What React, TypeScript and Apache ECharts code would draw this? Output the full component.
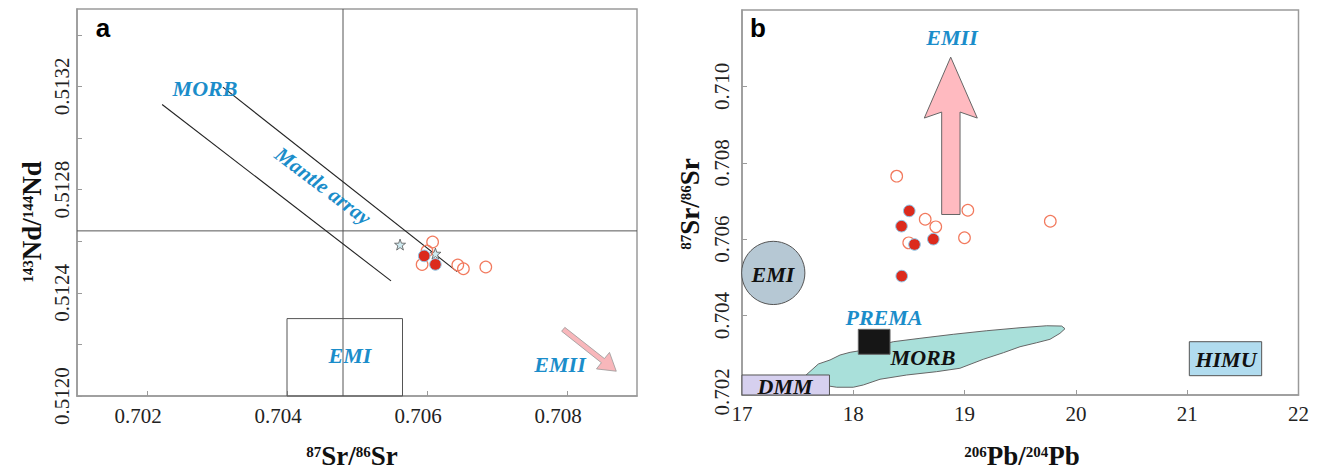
import React, { useEffect, useRef } from "react";
import * as echarts from "echarts";

// ---------- Panel a : 143Nd/144Nd vs 87Sr/86Sr ----------
const aXTicks = [0.702, 0.704, 0.706, 0.708];
const aYTicks = [0.512, 0.5122, 0.5124, 0.5126, 0.5128, 0.513, 0.5132, 0.5134];
const aYLabels = [0.512, 0.5124, 0.5128, 0.5132];
const aFilled = [
  [0.70596, 0.512543],
  [0.70612, 0.51251],
];
const aOpen = [
  [0.70608, 0.512597],
  [0.706, 0.512562],
  [0.70593, 0.51251],
  [0.70644, 0.512508],
  [0.70652, 0.512493],
  [0.70684, 0.5125],
];
const aStars = [
  [0.705615, 0.512587],
  [0.70612, 0.512552],
];
const aBulkSr = 0.7048;
const aBulkNd = 0.51264;
const aMantleLower = [
  [0.702216, 0.51313],
  [0.705486, 0.512446],
];
const aMantleUpper = [
  [0.703084, 0.513197],
  [0.70643, 0.512482],
];
const aEmiBox = [
  [0.704, 0.512],
  [0.70565, 0.512],
  [0.70565, 0.5123],
  [0.704, 0.5123],
];
const aEmiiArrow = [
  [0.707923, 0.512251],
  [0.707969, 0.512266],
  [0.708535, 0.512145],
  [0.708607, 0.512169],
  [0.708704, 0.512096],
  [0.708421, 0.512105],
  [0.708491, 0.512129],
];

// ---------- Panel b : 87Sr/86Sr vs 206Pb/204Pb ----------
const bXTicks = [17, 18, 19, 20, 21, 22];
const bYTicks = [0.702, 0.704, 0.706, 0.708, 0.71];
const bFilled = [
  [18.503, 0.70674],
  [18.433, 0.70634],
  [18.55, 0.705861],
  [18.719, 0.706],
  [18.435, 0.705033],
];
const bOpen = [
  [18.39, 0.70765],
  [18.646, 0.706523],
  [18.741, 0.706322],
  [18.498, 0.705903],
  [19.029, 0.706758],
  [18.999, 0.706039],
  [19.77, 0.706471],
];
const bEmiiArrow = [
  [18.875, 0.710766],
  [19.114, 0.709171],
  [18.959, 0.709328],
  [18.959, 0.706646],
  [18.794, 0.706646],
  [18.794, 0.709328],
  [18.638, 0.709171],
];
const bMorbField = [
  [17.566, 0.702418], [17.686, 0.702732], [17.791, 0.702837], [17.881, 0.702967],
  [17.971, 0.703038], [18.061, 0.70308], [18.359, 0.703315], [18.599, 0.703404],
  [18.898, 0.703509], [19.199, 0.703603], [19.498, 0.703681], [19.738, 0.703733],
  [19.872, 0.703725], [19.902, 0.703655], [19.857, 0.703535], [19.767, 0.703378],
  [19.648, 0.703289], [19.498, 0.703184], [19.348, 0.703027], [19.168, 0.702855],
  [18.958, 0.70262], [18.749, 0.702531], [18.48, 0.702444], [18.24, 0.702332],
  [18.09, 0.702183], [18.0, 0.702123], [17.851, 0.702123], [17.775, 0.702157],
  [17.6, 0.70235],
];
const bDmmBox = [
  [17.0, 0.70192], [17.786, 0.70192], [17.786, 0.702444], [17.0, 0.702444],
];
const bPremaBox = [
  [18.045, 0.702986], [18.33, 0.702986], [18.33, 0.703639], [18.045, 0.703639],
];
const bHimuBox = [
  [21.019, 0.702426], [21.669, 0.702426], [21.669, 0.703315], [21.019, 0.703315],
];
const bEmiCenter = [17.281, 0.705116];
const bEmiRadiusX = 0.284;

const SERIF = '"Liberation Serif", "Times New Roman", serif';
const BLUE = "#1b8dca";
const OPEN_C = "#f27a5e";
const FILL_C = "#dc2a1c";
const FILL_B = "#8cc8ea";
const AXIS_C = "#9a9a9a";
const STAR =
  "path://M0,-10 L2.35,-3.24 L9.51,-3.09 L3.8,1.24 L5.88,8.09 L0,4 L-5.88,8.09 L-3.8,1.24 L-9.51,-3.09 L-2.35,-3.24 Z";

function polySeries(verts: number[][], xi: number, yi: number, style: any, z: number) {
  return {
    type: "custom",
    xAxisIndex: xi,
    yAxisIndex: yi,
    z,
    silent: true,
    data: [verts[0]],
    renderItem: (_p: any, api: any) => ({
      type: "polygon",
      shape: { points: verts.map((v) => api.coord(v)) },
      style,
    }),
  };
}

function lineSeries(pts: number[][], xi: number, yi: number, color: string, width: number, z: number) {
  return {
    type: "line",
    xAxisIndex: xi,
    yAxisIndex: yi,
    data: pts,
    showSymbol: false,
    symbol: "none",
    silent: true,
    z,
    lineStyle: { color, width },
  };
}

function circleSeries(pts: number[][], xi: number, yi: number, fill: string, stroke: string, width: number, z: number) {
  return {
    type: "custom",
    xAxisIndex: xi,
    yAxisIndex: yi,
    z,
    silent: true,
    data: pts,
    renderItem: (_p: any, api: any) => {
      const c = api.coord([api.value(0), api.value(1)]);
      return {
        type: "circle",
        shape: { cx: c[0], cy: c[1], r: 5.8 },
        style: { fill, stroke, lineWidth: width },
      };
    },
  };
}

function label(x: number, y: number, text: string, color: string, size = 22, rotation = 0) {
  return {
    type: "text",
    x,
    y,
    rotation,
    z: 100,
    silent: true,
    style: {
      text,
      fill: color,
      font: `italic bold ${size}px ${SERIF}`,
      align: "center",
      verticalAlign: "middle",
    },
  };
}

const supRich = {
  s: { fontSize: 15, fontWeight: "bold", fontFamily: SERIF, fill: "#111", lineHeight: 16, verticalAlign: "top" },
  m: { fontSize: 27, fontWeight: "bold", fontFamily: SERIF, fill: "#111", lineHeight: 24, verticalAlign: "middle" },
};

function title(x: number, y: number, text: string, rotation = 0) {
  return {
    type: "text",
    x,
    y,
    rotation,
    z: 100,
    silent: true,
    style: {
      text,
      rich: supRich,
      fill: "#111",
      align: "center",
      verticalAlign: "middle",
    },
  };
}

export default function App() {
  const ref = useRef<HTMLDivElement>(null);
  useEffect(() => {
    if (!ref.current) return;
    const chart = echarts.init(ref.current, undefined, { renderer: "svg" });
    const axisLabelBase = { color: "#222", fontFamily: SERIF, fontSize: 21 };
    const option: any = {
      animation: false,
      backgroundColor: "#ffffff",
      grid: [
        {
          left: 77, top: 9, width: 560, height: 387,
          show: true, borderColor: AXIS_C, borderWidth: 1.5, backgroundColor: "transparent",
          containLabel: false, outerBoundsMode: "none",
        },
        {
          left: 742, top: 10, width: 556.5, height: 385,
          show: true, borderColor: AXIS_C, borderWidth: 1.5, backgroundColor: "transparent",
          containLabel: false, outerBoundsMode: "none",
        },
      ],
      xAxis: [
        {
          type: "value", gridIndex: 0, min: 0.701, max: 0.709,
          splitLine: { show: false },
          axisLine: { show: true, lineStyle: { color: AXIS_C, width: 1.5 } },
          axisTick: { show: true, inside: true, length: 5, customValues: aXTicks, lineStyle: { color: AXIS_C } },
          axisLabel: {
            ...axisLabelBase, margin: 9, customValues: aXTicks, padding: [0, 18, 0, 0],
            formatter: (v: number) => v.toFixed(3),
          },
        },
        {
          type: "value", gridIndex: 1, min: 17, max: 22,
          splitLine: { show: false },
          axisLine: { show: true, lineStyle: { color: AXIS_C, width: 1.5 } },
          axisTick: { show: true, inside: true, length: 5, customValues: bXTicks, lineStyle: { color: AXIS_C } },
          axisLabel: {
            ...axisLabelBase, margin: 8, customValues: bXTicks,
            formatter: (v: number) => String(Math.round(v)),
          },
        },
      ],
      yAxis: [
        {
          type: "value", gridIndex: 0, min: 0.512, max: 0.5135,
          splitLine: { show: false },
          axisLine: { show: true, lineStyle: { color: AXIS_C, width: 1.5 } },
          axisTick: { show: true, inside: true, length: 5, customValues: aYTicks, lineStyle: { color: AXIS_C } },
          axisLabel: {
            ...axisLabelBase, margin: 5, rotate: 90, customValues: aYLabels,
            formatter: (v: number) => v.toFixed(4),
          },
        },
        {
          type: "value", gridIndex: 1, min: 0.70192, max: 0.712,
          splitLine: { show: false },
          axisLine: { show: true, lineStyle: { color: AXIS_C, width: 1.5 } },
          axisTick: { show: true, inside: true, length: 5, customValues: bYTicks, lineStyle: { color: AXIS_C } },
          axisLabel: {
            ...axisLabelBase, margin: 10, rotate: 90, customValues: bYTicks,
            formatter: (v: number) => v.toFixed(3),
          },
        },
      ],
      series: [
        // panel a
        lineSeries([[aBulkSr, 0.512], [aBulkSr, 0.5135]], 0, 0, "#555", 1, 2),
        lineSeries([[0.701, aBulkNd], [0.709, aBulkNd]], 0, 0, "#555", 1, 2),
        lineSeries(aMantleLower, 0, 0, "#222", 1.1, 3),
        lineSeries(aMantleUpper, 0, 0, "#222", 1.1, 3),
        polySeries(aEmiBox, 0, 0, { fill: "none", stroke: "#555", lineWidth: 1 }, 2),
        polySeries(aEmiiArrow, 0, 0, { fill: "#f8b7bb", stroke: "#999", lineWidth: 0.8 }, 3),
        {
          type: "scatter", xAxisIndex: 0, yAxisIndex: 0, data: aStars, symbol: STAR, symbolSize: 11, z: 4,
          itemStyle: { color: "#cfeaf0", borderColor: "#555", borderWidth: 0.8, opacity: 1 },
        },
        circleSeries(aOpen, 0, 0, "none", OPEN_C, 1.2, 5),
        circleSeries(aFilled, 0, 0, FILL_C, FILL_B, 1, 6),
        // panel b
        polySeries(bMorbField, 1, 1, { fill: "#a9e0da", stroke: "#666", lineWidth: 1 }, 2),
        polySeries(bDmmBox, 1, 1, { fill: "#d6d0ef", stroke: "#555", lineWidth: 1 }, 3),
        polySeries(bPremaBox, 1, 1, { fill: "#161616", stroke: "#666", lineWidth: 1 }, 3),
        polySeries(bHimuBox, 1, 1, { fill: "#b1dcef", stroke: "#555", lineWidth: 1 }, 3),
        polySeries(bEmiiArrow, 1, 1, { fill: "#ffbac0", stroke: "#666", lineWidth: 1 }, 3),
        {
          type: "custom", xAxisIndex: 1, yAxisIndex: 1, z: 3, silent: true,
          data: [bEmiCenter],
          renderItem: (_p: any, api: any) => {
            const c = api.coord(bEmiCenter);
            const r = api.size([bEmiRadiusX, 0])[0];
            return { type: "circle", shape: { cx: c[0], cy: c[1], r }, style: { fill: "#b6c8d4", stroke: "#555", lineWidth: 1 } };
          },
        },
        circleSeries(bOpen, 1, 1, "none", OPEN_C, 1.2, 5),
        circleSeries(bFilled, 1, 1, FILL_C, FILL_B, 1, 6),
      ],
      graphic: [
        {
          type: "text", x: 103, y: 28, z: 100, silent: true,
          style: { text: "a", fill: "#000", font: 'bold 26px "Liberation Sans", Arial, sans-serif', align: "center", verticalAlign: "middle" },
        },
        {
          type: "text", x: 758, y: 28, z: 100, silent: true,
          style: { text: "b", fill: "#000", font: 'bold 26px "Liberation Sans", Arial, sans-serif', align: "center", verticalAlign: "middle" },
        },
        label(205, 88, "MORB", BLUE),
        label(323, 186, "Mantle array", BLUE, 21, (-37 * Math.PI) / 180),
        label(350, 355, "EMI", BLUE),
        label(560, 364, "EMII", BLUE),
        label(952, 37, "EMII", BLUE),
        label(884, 317, "PREMA", BLUE),
        label(923, 357, "MORB", "#111"),
        label(785, 386, "DMM", "#111"),
        label(1226, 359, "HIMU", "#111"),
        label(773, 274, "EMI", "#111"),
        title(352, 456, "{s|87}{m|Sr/}{s|86}{m|Sr}"),
        title(1022, 456, "{s|206}{m|Pb/}{s|204}{m|Pb}"),
        title(32, 222, "{s|143}{m|Nd/}{s|144}{m|Nd}", Math.PI / 2),
        title(690, 204, "{s|87}{m|Sr/}{s|86}{m|Sr}", Math.PI / 2),
      ],
    };
    chart.setOption(option);
    return () => chart.dispose();
  }, []);
  return (
    <div
      ref={ref}
      style={{ position: "fixed", left: 0, top: 0, width: 1322, height: 470, background: "#fff" }}
    />
  );
}
